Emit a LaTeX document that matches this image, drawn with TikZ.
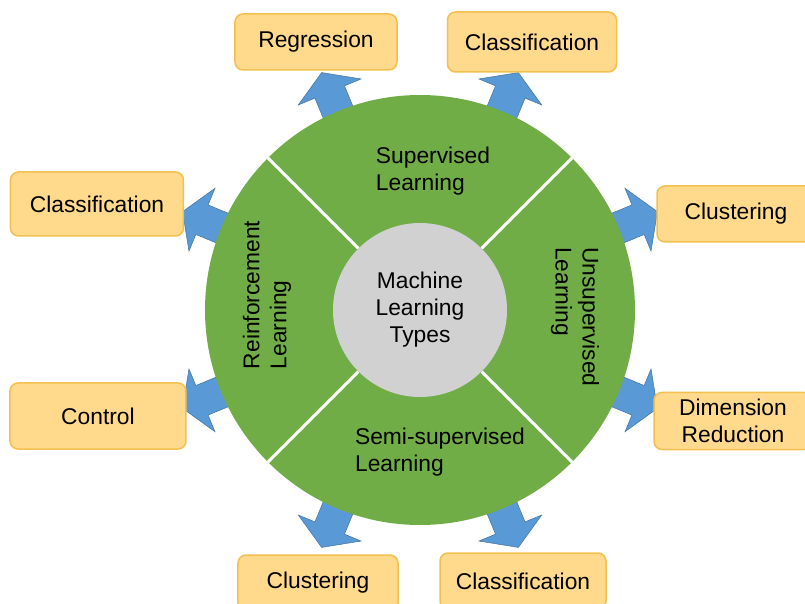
\documentclass[tikz,border=0pt]{standalone}
\usepackage{fontspec}
\setmainfont{Liberation Sans}
\usetikzlibrary{positioning}

\definecolor{ringgreen}{RGB}{112,173,71}
\definecolor{hubgray}{RGB}{209,209,209}
\definecolor{boxfill}{RGB}{255,217,140}
\definecolor{boxline}{RGB}{243,192,80}
\definecolor{arrowblue}{RGB}{88,153,214}

\newcommand{\labelfont}{\fontsize{22.8}{27}\selectfont}

\tikzset{
  typebox/.style={draw=boxline, fill=boxfill, rounded corners=8, line width=1.5,
    align=center, font=\labelfont, inner sep=0, minimum height=56},
  blockarrow/.style={fill=arrowblue, draw=arrowblue!75!black, line width=0.5},
  sectorlabel/.style={align=left, font=\labelfont, inner sep=0},
}

\begin{document}
\begin{tikzpicture}[x=1pt, y=1pt]
  \useasboundingbox (-420,-294) rectangle (385,310);

  % arrows sit behind the ring
  \foreach \a in {22.5,67.5,...,337.5}
    \draw[blockarrow, rotate=\a] (195,-16) -- (236,-16) -- (236,-34) -- (257,0)
      -- (236,34) -- (236,16) -- (195,16) -- cycle;

  \node[circle, fill=ringgreen, minimum size=430, inner sep=0] (ring) at (0,0) {};
  \node[circle, fill=hubgray, minimum size=174, inner sep=0, align=center,
    font=\labelfont] (hub) at (0,0) {Machine\\Learning\\Types};
  \foreach \a in {45,135,225,315}
    \draw[white, line width=3] (hub.\a) -- (ring.\a);

  % sector names
  \node[sectorlabel] (sup) at (13,139) {Supervised\\Learning};
  \node[sectorlabel, rotate=-90] (unsup) at (155,-7) {Unsupervised\\Learning};
  \node[sectorlabel] (semi) at (20,-142) {Semi-supervised\\Learning};
  \node[sectorlabel, rotate=90] (reinf) at (-153,15) {Reinforcement\\Learning};

  % outcomes
  \node[typebox, minimum width=162] (reg) at (-104,268) {Regression};
  \node[typebox, minimum width=169, minimum height=60] (clstop) at (112,268) {Classification};
  \node[typebox, minimum width=173, minimum height=64] (clsleft) at (-323,106) {Classification};
  \node[typebox, minimum width=158] (clustright) at (316,96) {Clustering};
  \node[typebox, minimum width=176, minimum height=66] (control) at (-322,-106) {Control};
  \node[typebox, minimum width=158, minimum height=57] (dimred) at (313,-111) {Dimension\\Reduction};
  \node[typebox, minimum width=160] (clustbottom) at (-102,-273) {Clustering};
  \node[typebox, minimum width=166] (clsbottom) at (103,-271) {Classification};
\end{tikzpicture}
\end{document}
